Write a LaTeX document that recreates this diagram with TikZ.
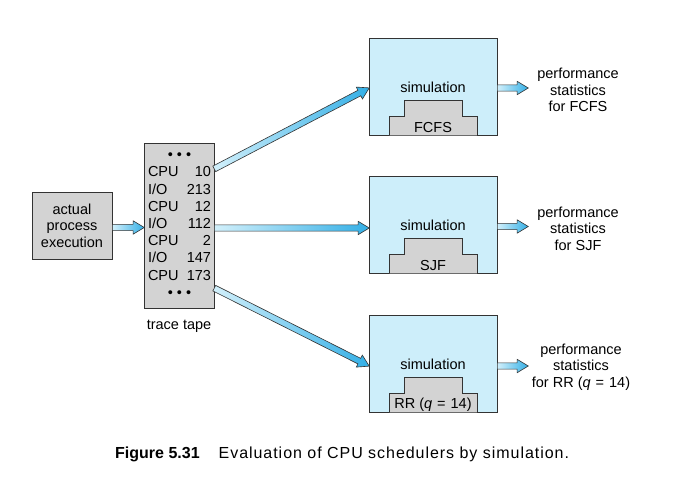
\documentclass[tikz,border=0pt]{standalone}
\usepackage{fontspec}
\setmainfont{Liberation Sans}
\newfontfamily\capfont[LetterSpace=6]{Liberation Sans}
\usetikzlibrary{shapes.arrows,calc}
\definecolor{boxgray}{HTML}{D3D3D3}
\definecolor{simblue}{HTML}{CDEEFA}
\definecolor{arrblue}{HTML}{33AFE6}
\definecolor{arrpale}{HTML}{D2F0FB}
\definecolor{edge}{HTML}{333333}
\newcommand{\qeq}{\textit{q}\hspace{5pt}=\hspace{5pt}14}
\tikzset{
  txt/.style={font=\fontsize{14.5}{16.5}\selectfont, inner sep=0pt},
  graybox/.style={draw=edge, fill=boxgray, line width=0.8pt, inner sep=0pt},
  simbox/.style={draw=edge, fill=simblue, line width=0.8pt, minimum width=128pt, minimum height=97pt, inner sep=0pt},
  podium/.style={draw=edge, fill=boxgray, line width=0.8pt},
  fatarrow/.style={single arrow, draw=edge, line width=0.6pt, inner sep=2.8pt,
     single arrow head extend=3.6pt, single arrow tip angle=62, single arrow head indent=0pt,
     left color=arrpale, right color=arrblue, anchor=tail},
}
\newcommand{\fatlink}[2]{%
  \path let \p1=(#1), \p2=(#2), \n1={atan2(\y2-\y1,\x2-\x1)}, \n2={veclen(\x2-\x1,\y2-\y1)} in
    node[fatarrow, minimum height=\n2, rotate=\n1] at (\p1) {};}
\begin{document}
\begin{tikzpicture}[x=1pt,y=-1pt]
\useasboundingbox (0,0) rectangle (680,483);
% actual process box
\node[graybox, txt, minimum width=80pt, minimum height=67pt, align=center,
      font=\fontsize{14.5}{16.5}\selectfont] (act) at (72,225.5) {actual\\process\\execution};
% trace tape
\node[graybox, minimum width=70pt, minimum height=165pt] (tape) at (179,225.5) {};
\node[txt, font=\fontsize{14.5}{17.2}\selectfont] (tapetxt) at (179.5,225) {%
  \renewcommand{\arraystretch}{1}%
  \begin{tabular*}{63pt}{@{}l@{\extracolsep{\fill}}r@{}}
  \multicolumn{2}{c}{\textbullet\hspace{4pt}\textbullet\hspace{4pt}\textbullet}\\
  CPU & 10\\ I/O & 213\\ CPU & 12\\ I/O & 112\\ CPU & 2\\ I/O & 147\\ CPU & 173\\
  \multicolumn{2}{c}{\textbullet\hspace{4pt}\textbullet\hspace{4pt}\textbullet}
  \end{tabular*}};
\node[txt] (tlabel) at (179,326) {trace tape};
% simulation boxes
\node[simbox] (fcfs) at (433,86.5) {};
\node[simbox] (sjf) at (433,224.5) {};
\node[simbox] (rr) at (433,363.5) {};
\foreach \b/\lab in {fcfs/FCFS, sjf/SJF, rr/{RR (\qeq)}}{
  \draw[podium] ($(\b.south west)+(21,0)$) |- ++(15,-19) |- ++(58,-16) |- ++(15,16) |- ++(15,19);
  \node[txt] (\b sim) at ($(\b.center)+(0,0.5)$) {simulation};
  \node[txt] (\b lab) at ($(\b.south)+(0,-8)$) {\lab};
}
% outputs
\node[txt, align=center] (pfcfs) at (578,90) {performance\\statistics\\for FCFS};
\node[txt, align=center] (psjf) at (578,228.5) {performance\\statistics\\for SJF};
\node[txt, align=center] (prr) at (581,367) {performance\\statistics\\for RR (\qeq)};
% coordinates
\coordinate (a1) at (112,227.5);
\coordinate (a2) at (144,227.5);
\coordinate (t1) at (214,169);
\coordinate (t2) at (214,228);
\coordinate (t3) at (214,288);
\coordinate (s1) at (369,88);
\coordinate (s2) at (369,228);
\coordinate (s3) at (369,366);
\foreach \i/\y in {1/88,2/226.5,3/366}{
  \coordinate (o\i a) at (497,\y);
  \coordinate (o\i b) at (528,\y);
}
\fatlink{a1}{a2}
\fatlink{t1}{s1}
\fatlink{t2}{s2}
\fatlink{t3}{s3}
\fatlink{o1a}{o1b}
\fatlink{o2a}{o2b}
\fatlink{o3a}{o3b}
% caption
\node[anchor=west, inner sep=0pt, font=\fontsize{16}{18}\selectfont] (cap) at (115,454)
  {\textbf{Figure 5.31}\hspace{19pt}{\capfont Evaluation of CPU schedulers by simulation.}};
\end{tikzpicture}
\end{document}
